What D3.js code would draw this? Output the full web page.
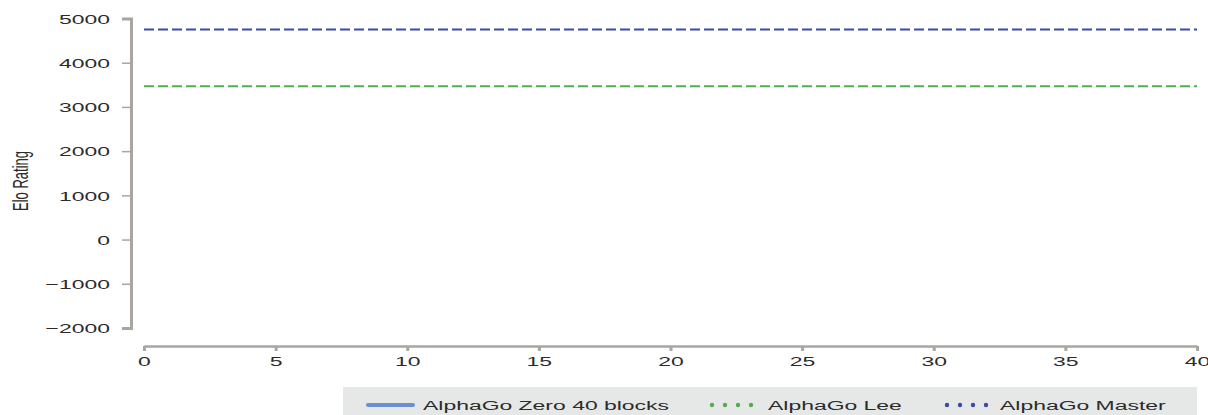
<!DOCTYPE html>
<html><head><meta charset="utf-8">
<script src="https://cdn.jsdelivr.net/npm/d3@7"></script>
<style>body{margin:0;background:#fff}svg{display:block}text{font-family:"Liberation Sans",Arial,sans-serif;fill:#2b2b2b}</style>
</head><body><svg id="c" width="1208" height="415"></svg>
<script>
const xTicks = [0,5,10,15,20,25,30,35,40];
const yTicks = [-2000,-1000,0,1000,2000,3000,4000,5000];
const seriesNames = ["AlphaGo Zero 40 blocks","AlphaGo Lee","AlphaGo Master"];
const zeroDays = [];           // no visible points for AlphaGo Zero 40 blocks
const zeroElo = [];
const leeDays = [0,40];
const leeElo = [3470,3470];
const masterDays = [0,40];
const masterElo = [4750,4750];

const SX = 1.7; // horizontal stretch of the original figure
const svg = d3.select("#c");
const x = d3.scaleLinear().domain([0,40]).range([144,1197]);
const y = d3.scaleLinear().domain([-2000,5000]).range([328,18.5]);
const axisCol = "#a9a5a1";

// y axis
const ya = svg.append("g").attr("transform","translate(131,0)")
  .call(d3.axisLeft(y).tickValues(yTicks).tickSize(9).tickSizeOuter(9).tickFormat(d=>d<0?"\u2212"+Math.abs(d):d));
ya.select(".domain").attr("stroke",axisCol).attr("stroke-width",3);
ya.selectAll(".tick line").attr("stroke",axisCol).attr("stroke-width",1.5);
ya.selectAll(".tick text").each(function(){
  const t=d3.select(this);
  t.attr("x",null).attr("dy",null).attr("y",null).attr("text-anchor","end")
   .attr("font-size",13.5).attr("fill","#2b2b2b")
   .attr("transform",`translate(-21,4.8) scale(${SX},1)`);
});

// x axis
const xa = svg.append("g").attr("transform","translate(0,346)")
  .call(d3.axisBottom(x).tickValues(xTicks).tickSize(5).tickSizeOuter(0));
xa.select(".domain").attr("stroke",axisCol).attr("stroke-width",2.5);
xa.selectAll(".tick line").attr("stroke",axisCol).attr("stroke-width",3);
xa.selectAll(".tick text").each(function(){
  const t=d3.select(this);
  t.attr("y",null).attr("dy",null).attr("text-anchor","middle").attr("font-size",13.5).attr("fill","#2b2b2b")
   .attr("transform",`translate(0,19.5) scale(${SX},1)`);
});

// y label
svg.append("text").attr("text-anchor","middle").attr("font-size",13)
  .attr("transform",`translate(28,181) scale(${SX},1) rotate(-90)`).text("Elo Rating");

// lines
const line = d3.line().x(d=>x(d[0])).y(d=>y(d[1]));
const series = [
  {days:zeroDays, elo:zeroElo, color:"#6b8fd0", dash:null},
  {days:leeDays, elo:leeElo, color:"#4fae4f", dash:"10,4"},
  {days:masterDays, elo:masterElo, color:"#3a4aa5", dash:"10,4"}
];
series.forEach(s=>{
  if(!s.days.length) return;
  svg.append("path").datum(d3.zip(s.days,s.elo)).attr("d",line)
    .attr("fill","none").attr("stroke",s.color).attr("stroke-width",2)
    .attr("stroke-dasharray",s.dash);
});

// legend
const lg = svg.append("g");
lg.append("rect").attr("x",343).attr("y",387).attr("width",854).attr("height",30).attr("fill","#e6e8e8");
const ly = 405;
lg.append("line").attr("x1",368).attr("x2",413).attr("y1",ly).attr("y2",ly).attr("stroke","#6b8fd0").attr("stroke-width",4).attr("stroke-linecap","round");
const dotsAt = [[712,"#4fae4f"],[947,"#3a4aa5"]];
dotsAt.forEach(([x0,c])=>{
  for(let i=0;i<4;i++) lg.append("circle").attr("cx",x0+i*13).attr("cy",ly).attr("r",2.2).attr("fill",c);
});
const textX=[423,768,1000];
seriesNames.forEach((n,i)=>{
  lg.append("text").attr("font-size",13.5).attr("transform",`translate(${textX[i]},${ly+4.8}) scale(${SX},1)`).text(n);
});
</script></body></html>
